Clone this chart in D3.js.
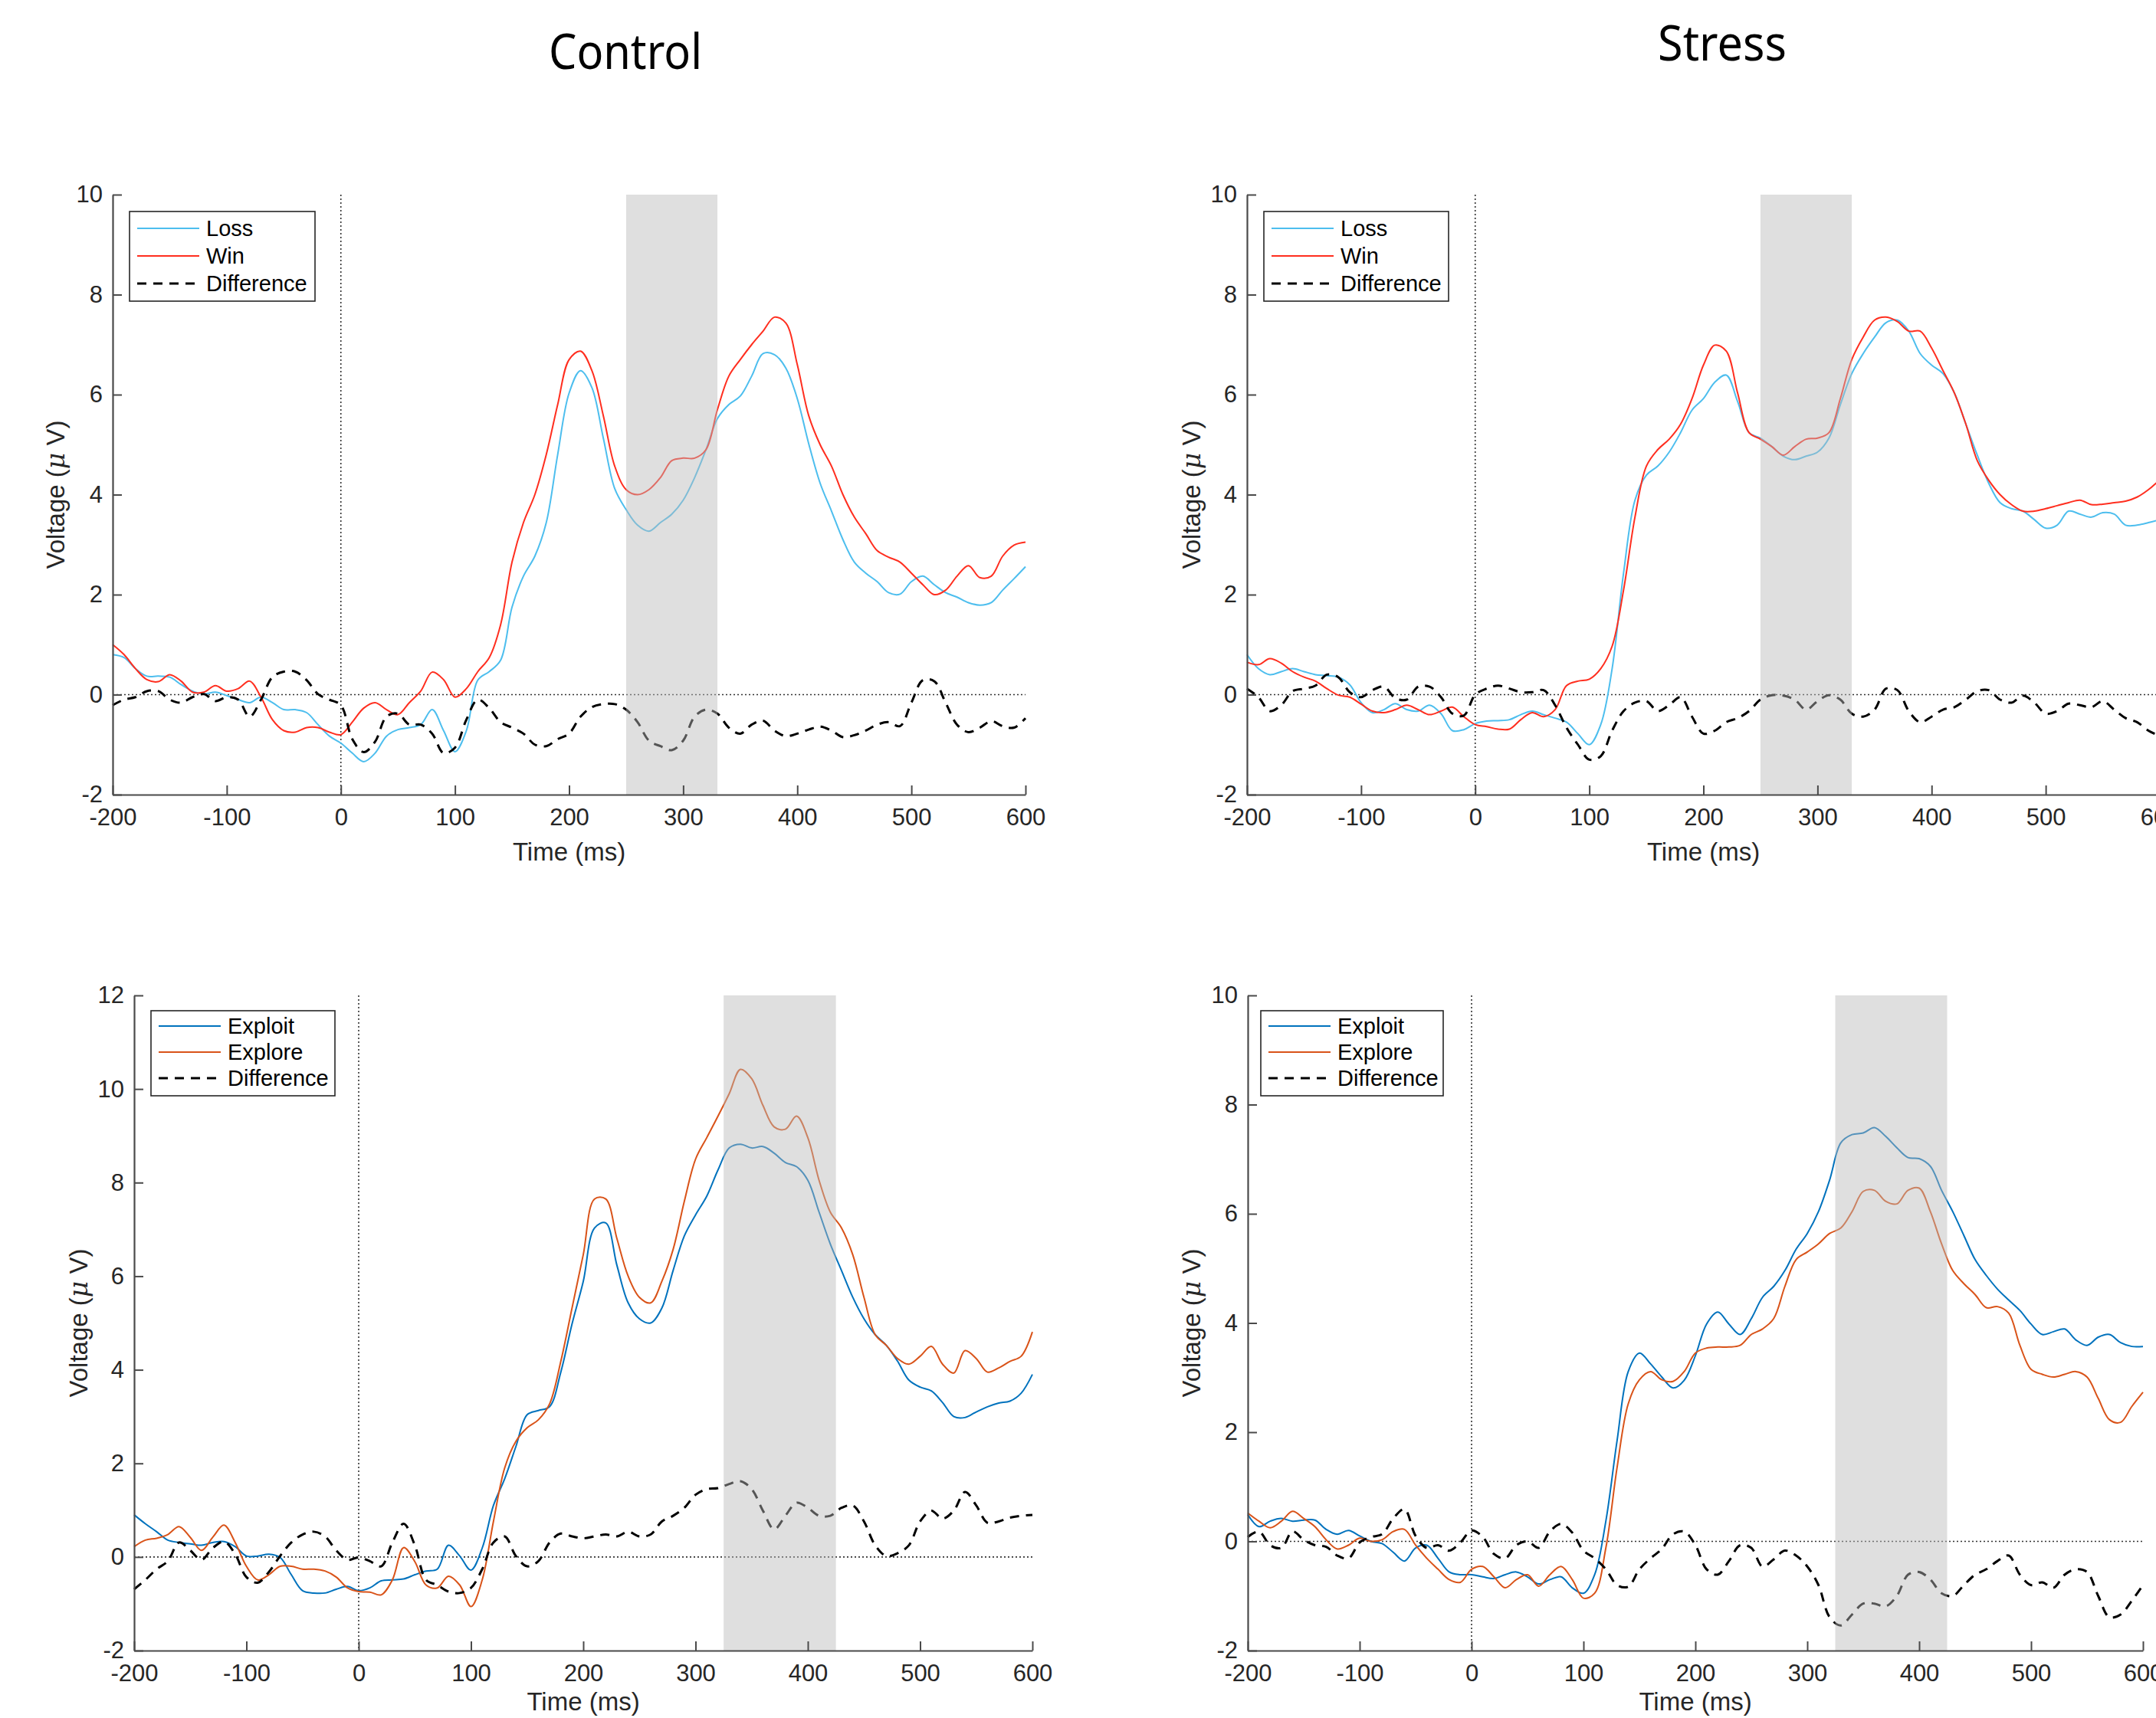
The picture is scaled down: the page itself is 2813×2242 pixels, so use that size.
<!DOCTYPE html>
<html>
<head>
<meta charset="utf-8">
<script src="https://cdn.jsdelivr.net/npm/d3@7"></script>
<style>
  body { margin: 0; background: #fff; overflow: hidden; }
  text { font-family: "Liberation Sans", Arial, Helvetica, sans-serif; fill: #262626; }
</style>
</head>
<body>
<svg id="chart" width="2813" height="2242"></svg>
<script>
// time points (ms), one every 10 ms
var times = d3.range(-200, 601, 10);
var xTicks = [-200, -100, 0, 100, 200, 300, 400, 500, 600];

// Control / Stress, Loss vs Win (top row)
var controlLoss = [0.8, 0.74, 0.52, 0.37, 0.37, 0.35, 0.2, 0.07, 0.01, 0.05, -0.02, -0.1, -0.16, -0.05, -0.16, -0.3, -0.3, -0.36, -0.6, -0.83,
  -0.97, -1.17, -1.34, -1.17, -0.83, -0.7, -0.66, -0.6, -0.3, -0.72, -1.14, -0.72, 0.29, 0.46, 0.69, 1.75, 2.37, 2.77, 3.44, 4.8,
  6.03, 6.48, 6.14, 5.13, 4.12, 3.7, 3.39, 3.27, 3.44, 3.61, 3.89, 4.34, 4.9, 5.52, 5.8, 5.97, 6.37, 6.82, 6.8, 6.53,
  5.92, 5.02, 4.23, 3.67, 3.1, 2.65, 2.43, 2.26, 2.04, 2.01, 2.26, 2.37, 2.2, 2.04, 1.95, 1.84, 1.79, 1.84, 2.09, 2.32, 2.56];
var controlWin = [1.0, 0.8, 0.52, 0.3, 0.26, 0.4, 0.27, 0.05, 0.05, 0.18, 0.07, 0.12, 0.27, -0.05, -0.5, -0.72, -0.75, -0.66, -0.66, -0.75,
  -0.8, -0.55, -0.27, -0.16, -0.3, -0.4, -0.16, 0.07, 0.45, 0.3, -0.05, 0.12, 0.46, 0.74, 1.4, 2.65, 3.44, 4.0, 4.8, 5.8,
  6.7, 6.87, 6.48, 5.58, 4.57, 4.1, 4.0, 4.1, 4.34, 4.68, 4.73, 4.73, 4.9, 5.7, 6.37, 6.7, 7.0, 7.27, 7.55, 7.43,
  6.6, 5.58, 5.0, 4.57, 4.0, 3.55, 3.22, 2.88, 2.75, 2.65, 2.43, 2.2, 2.0, 2.09, 2.37, 2.58, 2.34, 2.37, 2.77, 2.99, 3.05];
var controlLossWinDiff = [-0.21, -0.1, -0.05, 0.07, 0.07, -0.1, -0.16, -0.05, 0.01, -0.13, -0.05, -0.1, -0.44, -0.1, 0.35, 0.46, 0.46, 0.29, 0.01, -0.1,
  -0.21, -0.89, -1.15, -0.94, -0.44, -0.38, -0.6, -0.6, -0.78, -1.17, -1.06, -0.5, -0.1, -0.27, -0.55, -0.66, -0.78, -1.0, -1.03, -0.89,
  -0.78, -0.44, -0.25, -0.19, -0.19, -0.3, -0.55, -0.92, -1.03, -1.11, -0.92, -0.44, -0.3, -0.38, -0.66, -0.78, -0.6, -0.52, -0.72, -0.83,
  -0.78, -0.7, -0.64, -0.72, -0.85, -0.81, -0.72, -0.6, -0.55, -0.63, -0.16, 0.29, 0.27, -0.16, -0.6, -0.75, -0.66, -0.53, -0.63, -0.66, -0.47];

var stressLoss = [0.8, 0.52, 0.4, 0.46, 0.52, 0.46, 0.4, 0.38, 0.35, 0.2, -0.16, -0.36, -0.3, -0.18, -0.3, -0.33, -0.21, -0.38, -0.72, -0.7,
  -0.58, -0.53, -0.52, -0.5, -0.4, -0.33, -0.4, -0.47, -0.55, -0.78, -1.0, -0.6, 0.52, 2.43, 3.89, 4.39, 4.57, 4.85, 5.24, 5.69,
  5.92, 6.25, 6.39, 5.86, 5.24, 5.13, 4.96, 4.77, 4.7, 4.77, 4.85, 5.13, 5.8, 6.42, 6.82, 7.15, 7.44, 7.49, 7.27, 6.82,
  6.59, 6.42, 6.03, 5.41, 4.79, 4.23, 3.84, 3.72, 3.67, 3.5, 3.33, 3.39, 3.67, 3.61, 3.55, 3.64, 3.61, 3.39, 3.39, 3.44, 3.5];
var stressWin = [0.65, 0.6, 0.72, 0.63, 0.46, 0.35, 0.27, 0.12, -0.01, -0.05, -0.19, -0.33, -0.36, -0.3, -0.21, -0.3, -0.4, -0.33, -0.25, -0.44,
  -0.6, -0.64, -0.69, -0.69, -0.5, -0.36, -0.44, -0.3, 0.18, 0.27, 0.31, 0.52, 0.97, 2.09, 3.55, 4.57, 4.9, 5.11, 5.41, 5.92,
  6.59, 6.99, 6.87, 6.03, 5.24, 5.11, 4.96, 4.79, 4.96, 5.11, 5.13, 5.24, 5.92, 6.7, 7.15, 7.49, 7.55, 7.46, 7.27, 7.27,
  6.93, 6.48, 6.03, 5.41, 4.68, 4.29, 4.0, 3.8, 3.67, 3.67, 3.72, 3.78, 3.84, 3.89, 3.8, 3.81, 3.84, 3.87, 3.95, 4.1, 4.3];
var stressLossWinDiff = [0.12, -0.05, -0.33, -0.21, 0.07, 0.12, 0.18, 0.4, 0.35, 0.05, -0.05, 0.09, 0.16, -0.07, -0.1, 0.16, 0.16, -0.05, -0.38, -0.42,
  0.0, 0.12, 0.18, 0.12, 0.05, 0.05, 0.09, -0.21, -0.66, -1.0, -1.3, -1.23, -0.72, -0.33, -0.16, -0.13, -0.33, -0.21, -0.05, -0.44,
  -0.78, -0.72, -0.55, -0.47, -0.33, -0.1, -0.01, -0.02, -0.1, -0.3, -0.13, -0.01, -0.1, -0.38, -0.44, -0.3, 0.12, 0.09, -0.33, -0.55,
  -0.44, -0.3, -0.25, -0.1, 0.07, 0.09, -0.1, -0.16, -0.02, -0.16, -0.38, -0.33, -0.18, -0.21, -0.25, -0.13, -0.3, -0.47, -0.55, -0.72, -0.83];

// Control / Stress, Exploit vs Explore (bottom row)
var controlExploit = [0.9, 0.71, 0.54, 0.36, 0.31, 0.28, 0.25, 0.31, 0.33, 0.22, 0.02, 0.02, 0.06, -0.01, -0.38, -0.72, -0.77, -0.77, -0.69, -0.63,
  -0.72, -0.66, -0.51, -0.49, -0.47, -0.38, -0.3, -0.26, 0.25, 0.02, -0.28, 0.19, 1.1, 1.67, 2.36, 3.04, 3.13, 3.21, 3.95, 4.98,
  5.89, 7.03, 7.14, 6.23, 5.43, 5.09, 5.0, 5.32, 6.12, 6.86, 7.31, 7.71, 8.27, 8.74, 8.82, 8.74, 8.77, 8.63, 8.43, 8.34,
  8.05, 7.37, 6.69, 6.12, 5.55, 5.09, 4.75, 4.52, 4.18, 3.78, 3.63, 3.55, 3.3, 3.0, 2.98, 3.1, 3.21, 3.29, 3.33, 3.5, 3.9];
var controlExplore = [0.22, 0.36, 0.4, 0.48, 0.65, 0.42, 0.14, 0.42, 0.68, 0.31, -0.2, -0.49, -0.38, -0.2, -0.2, -0.26, -0.26, -0.3, -0.43, -0.66,
  -0.74, -0.75, -0.81, -0.49, 0.2, -0.1, -0.6, -0.66, -0.41, -0.6, -1.06, -0.49, 0.76, 1.9, 2.47, 2.76, 2.93, 3.27, 4.18, 5.32,
  6.46, 7.65, 7.65, 6.8, 6.0, 5.55, 5.43, 5.89, 6.57, 7.6, 8.5, 8.96, 9.42, 9.9, 10.42, 10.22, 9.65, 9.19, 9.14, 9.42,
  8.96, 8.05, 7.37, 7.03, 6.46, 5.55, 4.75, 4.52, 4.24, 4.12, 4.29, 4.5, 4.12, 3.93, 4.41, 4.24, 3.95, 4.04, 4.18, 4.29, 4.81];
var controlExpDiff = [-0.69, -0.49, -0.26, -0.09, 0.31, 0.14, -0.06, 0.19, 0.33, 0.06, -0.43, -0.55, -0.32, 0.02, 0.31, 0.48, 0.54, 0.44, 0.14, -0.06,
  -0.01, -0.09, -0.2, 0.31, 0.71, 0.25, -0.49, -0.6, -0.74, -0.77, -0.66, -0.26, 0.31, 0.44, 0.02, -0.2, -0.09, 0.31, 0.5, 0.44,
  0.4, 0.44, 0.48, 0.44, 0.54, 0.44, 0.48, 0.76, 0.88, 1.05, 1.33, 1.45, 1.47, 1.56, 1.62, 1.45, 0.99, 0.59, 0.88, 1.16,
  1.05, 0.88, 0.88, 1.05, 1.1, 0.76, 0.25, 0.02, 0.08, 0.25, 0.76, 0.99, 0.82, 0.99, 1.39, 1.1, 0.73, 0.76, 0.84, 0.88, 0.9];

var stressExploit = [0.49, 0.27, 0.37, 0.42, 0.37, 0.39, 0.39, 0.22, 0.13, 0.2, 0.1, 0.0, -0.04, -0.2, -0.36, -0.12, -0.07, -0.31, -0.56, -0.61,
  -0.61, -0.65, -0.68, -0.61, -0.56, -0.65, -0.78, -0.7, -0.65, -0.85, -0.95, -0.61, 0.37, 1.84, 3.11, 3.45, 3.25, 3.01, 2.81, 2.95,
  3.4, 3.98, 4.2, 3.98, 3.79, 4.08, 4.47, 4.67, 4.96, 5.35, 5.64, 6.04, 6.62, 7.3, 7.45, 7.48, 7.58, 7.42, 7.21, 7.03,
  7.01, 6.87, 6.43, 6.04, 5.6, 5.16, 4.87, 4.62, 4.42, 4.23, 3.98, 3.79, 3.84, 3.89, 3.69, 3.59, 3.74, 3.79, 3.64, 3.57, 3.57];
var stressExplore = [0.52, 0.37, 0.25, 0.37, 0.55, 0.42, 0.27, 0.03, -0.14, -0.07, 0.06, 0.0, 0.03, 0.18, 0.22, -0.07, -0.31, -0.51, -0.7, -0.75,
  -0.51, -0.46, -0.65, -0.85, -0.7, -0.61, -0.82, -0.61, -0.46, -0.7, -1.04, -0.95, -0.12, 1.35, 2.52, 2.96, 3.11, 2.96, 2.93, 3.11,
  3.45, 3.54, 3.56, 3.56, 3.59, 3.79, 3.89, 4.08, 4.67, 5.16, 5.3, 5.45, 5.64, 5.74, 6.04, 6.41, 6.43, 6.23, 6.18, 6.43,
  6.47, 6.04, 5.45, 4.96, 4.72, 4.52, 4.28, 4.3, 4.18, 3.59, 3.15, 3.06, 3.01, 3.06, 3.11, 3.01, 2.62, 2.23, 2.18, 2.47, 2.73];
var stressExpDiff = [0.08, 0.18, -0.07, -0.12, 0.18, 0.03, -0.07, -0.1, -0.26, -0.31, -0.02, 0.08, 0.13, 0.42, 0.59, 0.1, -0.12, -0.07, -0.17, -0.02,
  0.2, 0.08, -0.23, -0.31, -0.07, 0.0, -0.12, 0.18, 0.32, 0.16, -0.17, -0.31, -0.51, -0.8, -0.83, -0.51, -0.31, -0.14, 0.13, 0.18,
  -0.07, -0.51, -0.61, -0.36, -0.07, -0.12, -0.46, -0.33, -0.17, -0.26, -0.46, -0.8, -1.39, -1.54, -1.34, -1.14, -1.14, -1.19, -1.0, -0.61,
  -0.56, -0.7, -0.95, -1.0, -0.8, -0.61, -0.51, -0.36, -0.26, -0.61, -0.8, -0.75, -0.85, -0.61, -0.51, -0.56, -1.0, -1.39, -1.34, -1.09, -0.8];

var colors = {Loss: "#4DBEEE", Win: "#FF2E1F", Exploit: "#0072BD", Explore: "#D95319", Difference: "#000"};

// panel layout (pixel boxes of each axes)
var panels = [
  {x0: 147, x1: 1338, y0: 254, y1: 1037, yMax: 10, shade: [250, 330], ylabX: 72, xlabDy: 86,
   legend: {x: 169, y: 276, w: 242, h: 117, rows: [22, 58, 94]},
   series: [["Loss", controlLoss], ["Win", controlWin], ["Difference", controlLossWinDiff]]},
  {x0: 1627, x1: 2818, y0: 254, y1: 1037, yMax: 10, shade: [250, 330], ylabX: 1554, xlabDy: 86,
   legend: {x: 1649, y: 276, w: 241, h: 117, rows: [22, 58, 94]},
   series: [["Loss", stressLoss], ["Win", stressWin], ["Difference", stressLossWinDiff]]},
  {x0: 175, x1: 1347, y0: 1299, y1: 2154, yMax: 12, shade: [325, 425], ylabX: 102, xlabDy: 78,
   legend: {x: 197, y: 1319, w: 240, h: 111, rows: [20, 54, 88]},
   series: [["Exploit", controlExploit], ["Explore", controlExplore], ["Difference", controlExpDiff]]},
  {x0: 1628, x1: 2796, y0: 1299, y1: 2154, yMax: 10, shade: [325, 425], ylabX: 1554, xlabDy: 78,
   legend: {x: 1645, y: 1319, w: 238, h: 111, rows: [20, 54, 88]},
   series: [["Exploit", stressExploit], ["Explore", stressExplore], ["Difference", stressExpDiff]]}
];

var svg = d3.select("#chart");

// column titles
svg.append("text")
  .attr("x", 816).attr("y", 90)
  .attr("text-anchor", "middle")
  .attr("textLength", 200).attr("lengthAdjust", "spacingAndGlyphs")
  .style("font-family", "'Noto Sans', sans-serif")
  .style("font-size", "64px")
  .style("fill", "#000")
  .text("Control");
svg.append("text")
  .attr("x", 2247).attr("y", 79)
  .attr("text-anchor", "middle")
  .attr("textLength", 168).attr("lengthAdjust", "spacingAndGlyphs")
  .style("font-family", "'Noto Sans', sans-serif")
  .style("font-size", "64px")
  .style("fill", "#000")
  .text("Stress");

// plain hyphen for negative ticks, like the original figure
var plainFormat = function(d) { return String(d); };

panels.forEach(function(p) {
  var x = d3.scaleLinear().domain([-200, 600]).range([p.x0, p.x1]);
  var y = d3.scaleLinear().domain([-2, p.yMax]).range([p.y1, p.y0]);

  var g = svg.append("g");

  // zero reference lines (dotted)
  g.append("line")
    .attr("x1", x(-200)).attr("x2", x(600))
    .attr("y1", y(0)).attr("y2", y(0))
    .style("stroke", "#333").style("stroke-width", 1.6)
    .style("stroke-dasharray", "2,3");
  g.append("line")
    .attr("x1", x(0)).attr("x2", x(0))
    .attr("y1", y(p.yMax)).attr("y2", y(-2))
    .style("stroke", "#333").style("stroke-width", 1.6)
    .style("stroke-dasharray", "2,3");

  // ERP curves
  var line = d3.line()
    .x(function(d, i) { return x(times[i]); })
    .y(function(d) { return y(d); })
    .curve(d3.curveCatmullRom.alpha(0.5));

  p.series.forEach(function(s) {
    var dashed = s[0] == "Difference";
    g.append("path")
      .datum(s[1])
      .attr("d", line)
      .style("fill", "none")
      .style("stroke", colors[s[0]])
      .style("stroke-width", dashed ? 3 : 2)
      .style("stroke-dasharray", dashed ? "12,9" : null);
  });

  // time window of interest (semi-transparent patch on top)
  g.append("rect")
    .attr("x", x(p.shade[0]))
    .attr("y", y(p.yMax))
    .attr("width", x(p.shade[1]) - x(p.shade[0]))
    .attr("height", y(-2) - y(p.yMax))
    .style("fill", "#b9b9b9")
    .style("opacity", 0.46);

  // axes, ticks pointing inwards
  var xAxis = g.append("g")
    .attr("transform", "translate(0," + p.y1 + ")")
    .call(d3.axisBottom(x).tickValues(xTicks).tickFormat(plainFormat)
      .tickSize(-12).tickSizeOuter(0).tickPadding(18));
  var yAxis = g.append("g")
    .attr("transform", "translate(" + p.x0 + ",0)")
    .call(d3.axisLeft(y).tickValues(d3.range(-2, p.yMax + 1, 2)).tickFormat(plainFormat)
      .tickSize(-12).tickSizeOuter(0).tickPadding(13));
  [xAxis, yAxis].forEach(function(a) {
    a.select(".domain").style("stroke", "#4a4a4a").style("stroke-width", 2.2);
    a.selectAll(".tick line").style("stroke", "#4a4a4a").style("stroke-width", 2);
    a.selectAll(".tick text")
      .style("font-family", "'Liberation Sans', Arial, sans-serif")
      .style("font-size", "31px").style("fill", "#262626");
  });

  // axis titles
  svg.append("text")
    .attr("x", (p.x0 + p.x1) / 2)
    .attr("y", p.y1 + p.xlabDy)
    .attr("text-anchor", "middle")
    .style("font-size", "33px")
    .text("Time (ms)");
  var yl = svg.append("text")
    .attr("transform", "translate(" + p.ylabX + "," + (p.y0 + p.y1) / 2 + ")rotate(-90)")
    .attr("text-anchor", "middle")
    .attr("dy", "0.35em")
    .style("font-size", "33px");
  yl.append("tspan").text("Voltage (");
  yl.append("tspan").style("font-family", "'DejaVu Serif', serif").style("font-style", "italic").text("\u03BC");
  yl.append("tspan").text(" V)");

  // legend
  var L = p.legend;
  var lg = svg.append("g").attr("transform", "translate(" + L.x + "," + L.y + ")");
  lg.append("rect")
    .attr("width", L.w).attr("height", L.h)
    .style("fill", "#fff").style("stroke", "#262626").style("stroke-width", 1.6);
  p.series.forEach(function(s, i) {
    var dashed = s[0] == "Difference";
    lg.append("line")
      .attr("x1", 10).attr("x2", 91)
      .attr("y1", L.rows[i]).attr("y2", L.rows[i])
      .style("stroke", colors[s[0]])
      .style("stroke-width", dashed ? 3 : 2)
      .style("stroke-dasharray", dashed ? "12,9" : null);
    lg.append("text")
      .attr("x", 100).attr("y", L.rows[i])
      .attr("dy", "0.36em")
      .style("font-size", "29px")
      .style("fill", "#000")
      .text(s[0]);
  });
});
</script>
</body>
</html>
